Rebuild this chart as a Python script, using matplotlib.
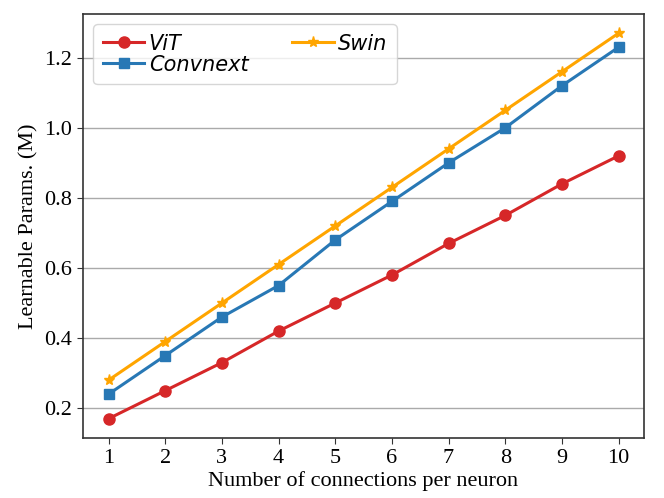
import matplotlib

matplotlib.use("Agg")

import matplotlib.pyplot as plt

CONNECTIONS = [1, 2, 3, 4, 5, 6, 7, 8, 9, 10]
VIT = [0.17, 0.25, 0.33, 0.42, 0.50, 0.58, 0.67, 0.75, 0.84, 0.92]
CONVNEXT = [0.24, 0.35, 0.46, 0.55, 0.68, 0.79, 0.90, 1.00, 1.12, 1.23]
SWIN = [0.28, 0.39, 0.50, 0.61, 0.72, 0.83, 0.94, 1.05, 1.16, 1.27]

SERIES = [
    ("ViT", VIT, "#d62728", "o", 8),
    ("Convnext", CONVNEXT, "#2878b5", "s", 7.5),
    ("Swin", SWIN, "#ffa500", "*", 8),
]

plt.rcParams.update(
    {
        "font.family": ["Liberation Serif", "DejaVu Serif"],
        "font.size": 16,
        "axes.linewidth": 1.2,
    }
)

fig = plt.figure(figsize=(6.64, 4.98), dpi=100)
ax = fig.add_axes([0.125, 0.1205, 0.845, 0.8515])

for name, values, color, marker, msize in SERIES:
    ax.plot(CONNECTIONS, values, color=color, marker=marker, markersize=msize,
            linewidth=2.2, label=name)

ax.set_xticks(CONNECTIONS)
ax.set_yticks([0.2, 0.4, 0.6, 0.8, 1.0, 1.2])
ax.set_xlabel("Number of connections per neuron", labelpad=2)
ax.set_ylabel("Learnable Params. (M)", labelpad=4)
ax.grid(True, axis="y", color="#aaaaaa", linewidth=1.0)
ax.set_axisbelow(True)
ax.tick_params(axis="both", labelsize=16, length=4.5, color="#333333")
for spine in ax.spines.values():
    spine.set_color("#333333")

ax.legend(
    loc="upper left",
    ncol=2,
    prop={"family": "DejaVu Sans", "style": "italic", "size": 15},
    handlelength=2.0,
    handletextpad=0.2,
    labelspacing=0.05,
    columnspacing=2.1,
    borderpad=0.45,
    borderaxespad=0.5,
    fancybox=True,
)

fig.savefig("out.png", dpi=100)
